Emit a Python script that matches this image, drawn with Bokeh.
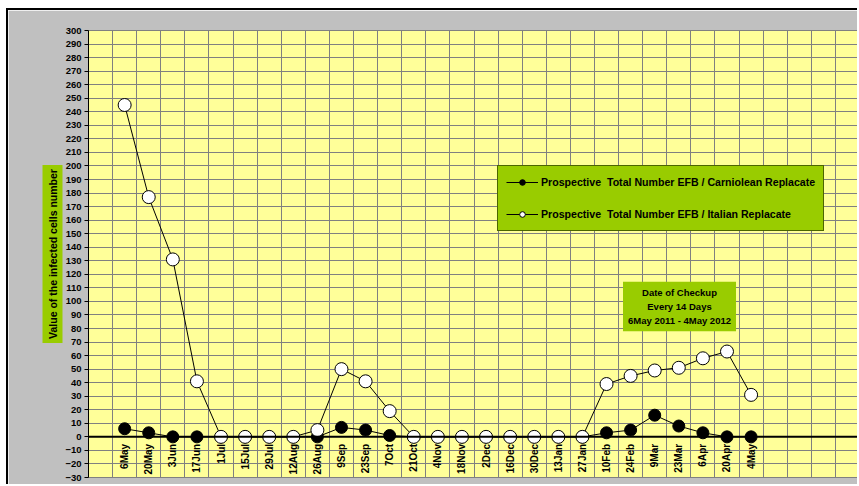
import numpy as np
from math import pi
from bokeh.plotting import figure
from bokeh.models import (Range1d, FixedTicker, Span, Legend, LegendItem, Label,
                          ColumnDataSource)
from bokeh.core.properties import value
from bokeh.embed import file_html
from bokeh.resources import INLINE

dates = ["6May", "20May", "3Jun", "17Jun", "1Jul", "15Jul", "29Jul", "12Aug", "26Aug",
         "9Sep", "23Sep", "7Oct", "21Oct", "4Nov", "18Nov", "2Dec", "16Dec", "30Dec",
         "13Jan", "27Jan", "10Feb", "24Feb", "9Mar", "23Mar", "6Apr", "20Apr", "4May"]
italian = [245, 177, 131, 41, 0, 0, 0, 0, 5, 50, 41, 19, 0, 0, 0, 0, 0, 0, 0, 0,
           39, 45, 49, 51, 58, 63, 31]
carniolean = [6, 3, 0, 0, 0, 0, 0, 0, 0, 7, 5, 1, 0, 0, 0, 0, 0, 0, 0, 0,
              3, 5, 16, 8, 3, 0, 0]
y_ticks = list(range(-30, 301, 10))
lead_slots = 1   # empty category slot before the first date
tail_slots = 4   # empty category slots after the last date
legend_labels = ["Prospective  Total Number EFB / Carniolean Replacate",
                 "Prospective  Total Number EFB / Italian Replacate"]
y_title = "Value of the infected cells number"
note = "Date of Checkup\nEvery 14 Days\n6May 2011 - 4May 2012"

n_slots = lead_slots + len(dates) + tail_slots
xs = [lead_slots + i + 0.5 for i in range(len(dates))]
src = ColumnDataSource(dict(x=xs, date=dates, it=italian, ca=carniolean))

FONT = "Liberation Sans"
GREEN = "#99CC00"
GRID = "#808080"

p = figure(width=851, height=476, output_backend="svg", toolbar_location=None,
           x_range=Range1d(0, n_slots), y_range=Range1d(-30, 300),
           min_border_left=80, min_border_top=20, min_border_right=0, min_border_bottom=9,
           background_fill_color="#FFFF99", border_fill_color="#C0C0C0",
           outline_line_color=GRID, margin=(8, 0, 0, 6),
           title_location="left",
           styles={"border-top": "2px solid #000000", "border-left": "2px solid #000000"})

p.title.text = y_title
p.title.align = "center"
p.title.text_font = FONT
p.title.text_font_style = "bold"
p.title.text_font_size = "10.5px"
p.title.text_color = "#000000"
p.title.background_fill_color = GREEN
p.title.padding = 4
p.title.standoff = 0

p.xaxis.visible = False
p.xgrid.ticker = FixedTicker(ticks=list(range(0, n_slots + 1)))
p.ygrid.ticker = FixedTicker(ticks=y_ticks)
for g in (p.xgrid, p.ygrid):
    g.grid_line_color = GRID
    g.grid_line_alpha = 1.0
    g.grid_line_width = 1

ax = p.yaxis[0]
ax.ticker = FixedTicker(ticks=y_ticks)
ax.major_label_text_font = FONT
ax.major_label_text_font_style = "bold"
ax.major_label_text_font_size = "9.5px"
ax.major_label_text_color = "#000000"
ax.axis_line_color = "#000000"
ax.major_tick_line_color = "#000000"
ax.major_tick_out = 4
ax.major_tick_in = 0
ax.minor_tick_line_color = None
ax.major_label_standoff = 3

p.add_layout(Span(location=0, dimension="width", line_color="#000000", line_width=2))

p.text(x="x", y=0, text="date", source=src, angle=pi / 2, text_align="right",
       text_baseline="middle", y_offset=7, text_font=value(FONT),
       text_font_style="bold", text_font_size="10px", text_color="#000000")

lc = p.line(x="x", y="ca", source=src, line_color="#000000", line_width=1)
sc = p.scatter(x="x", y="ca", source=src, size=12, fill_color="#000000",
               line_color="#000000")
li = p.line(x="x", y="it", source=src, line_color="#000000", line_width=1)
si = p.scatter(x="x", y="it", source=src, size=13, fill_color="#FFFFFF",
               line_color="#000000", line_width=1)

legend = Legend(items=[LegendItem(label=legend_labels[0], renderers=[lc, sc]),
                       LegendItem(label=legend_labels[1], renderers=[li, si])],
                location=(409, 246), background_fill_color=GREEN, background_fill_alpha=1,
                border_line_color="#000000", border_line_width=1,
                label_text_font=FONT, label_text_font_style="bold",
                label_text_font_size="10.6px", label_text_color="#000000",
                glyph_width=32, glyph_height=14, label_height=16, spacing=16,
                padding=8, label_standoff=3, margin=0)
p.add_layout(legend, "center")

p.add_layout(Label(x=591, y=171, x_units="screen", y_units="screen", text=note,
                   text_align="center", text_baseline="middle", text_font=FONT,
                   text_font_style="bold", text_font_size="9.5px", text_color="#000000",
                   text_line_height=1.3, background_fill_color=GREEN,
                   padding=5))

open("out.html", "w").write(file_html(p, INLINE))
